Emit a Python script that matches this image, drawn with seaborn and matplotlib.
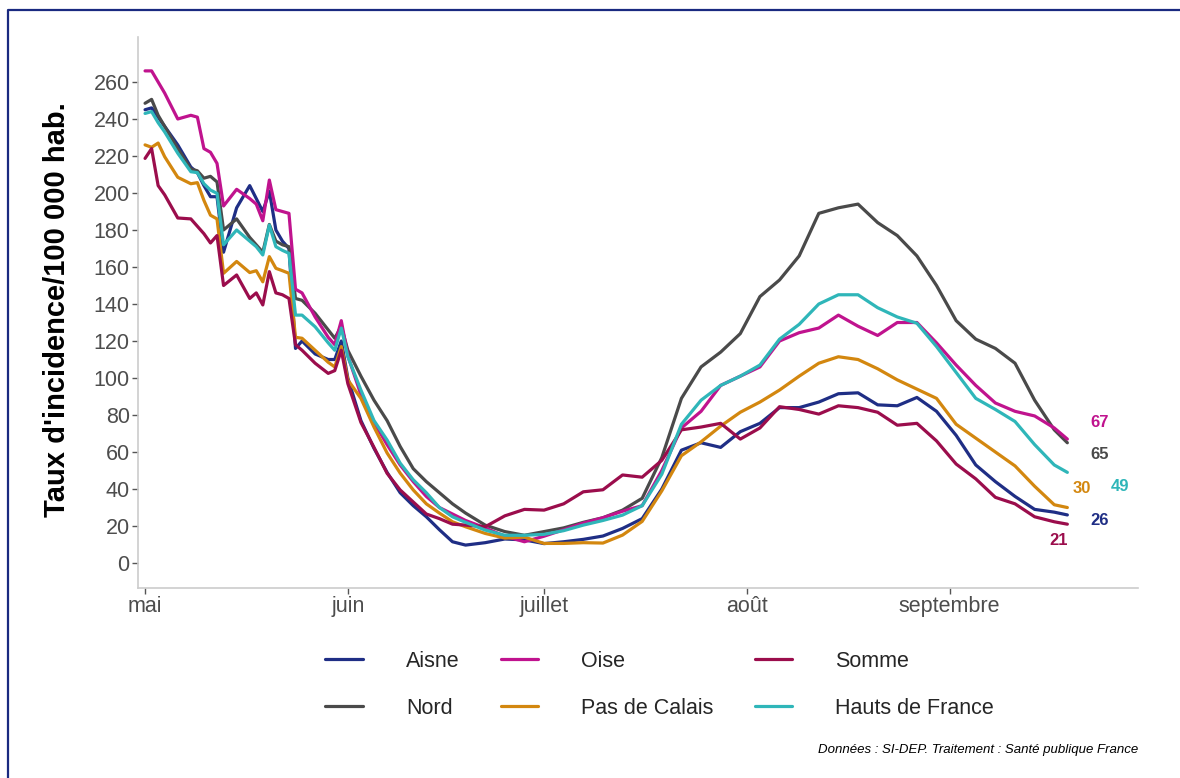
import pandas as pd
import matplotlib
matplotlib.use("Agg")
import matplotlib.pyplot as plt
from matplotlib.lines import Line2D
import seaborn as sns

# jours depuis le 1er mai 2021
start = pd.Timestamp("2021-05-01")
days = [0, 1, 2, 3, 5, 7, 8, 9, 10, 11, 12, 14, 16, 17, 18, 19, 20, 21, 22, 23, 24, 26, 28, 29, 30, 31,
        33, 35, 37, 39, 41, 43, 45, 47, 49,
        52, 55, 58, 61, 64, 67, 70, 73, 76, 79, 82, 85, 88, 91, 94, 97, 100, 103, 106, 109, 112, 115,
        118, 121, 124, 127, 130, 133, 136, 139, 141]

aisne = [245, 246, 241, 236, 226, 214, 211, 204, 198, 198, 168, 192, 204, 197, 190, 201, 180, 174, 170, 116, 120, 113, 110, 110, 120, 100,
         77, 62, 49, 38, 31, 25, 18, 11.5, 9.7,
         11, 13, 12.5, 10.5, 11.5, 12.8, 14.6, 18.7, 24, 40, 61, 65, 62.5, 71, 75.5, 84, 84, 87, 91.5, 92, 85.5, 85,
         89.5, 82, 69, 53, 44, 36, 29, 27.5, 26]
nord = [248.5, 250.6, 242, 236, 224, 213, 212, 208, 209, 206, 180, 186, 176, 172, 168, 183, 174, 172, 171, 143, 142, 135, 126, 121.5, 128, 115,
        101, 88, 77, 63, 51, 44, 38, 32, 27,
        20.5, 17, 15, 17, 19, 22, 24.5, 28.6, 35, 57, 89, 106, 114, 124, 144, 153, 166, 189, 192, 194, 184, 177,
        166, 150, 131, 121, 116, 108, 88, 72, 65]
oise = [266, 266, 260, 254, 240, 242, 241, 224, 222, 216, 193, 202, 197, 194, 185, 207, 191, 190, 189, 148, 146, 133, 122, 118, 131, 112,
        91, 76, 64, 53, 44, 36, 30, 26.5, 23,
        19, 14.5, 11.5, 14.5, 18, 21.6, 24.5, 28, 31, 50, 73, 82, 96, 101, 106, 120, 124.5, 127, 134, 128, 123, 130,
        130, 119, 107, 96, 86.5, 82, 79.5, 73, 67]
pas_de_calais = [226, 224.7, 227, 219.6, 208.5, 205, 205.6, 196, 188, 186, 156.6, 163, 157, 158, 152, 165.6, 159.3, 158, 156.6, 122, 121.5, 115, 108.5, 106, 117, 99,
                 89, 73.5, 59.5, 48.6, 39.5, 32, 27, 22.3, 19.6,
                 16, 13.5, 14, 10.6, 10.6, 11, 10.8, 15.1, 22.5, 39, 58, 65.5, 74, 81.5, 87, 93.5, 101, 108, 111.5, 110, 105, 99,
                 94, 89, 75, 67.5, 60, 52.5, 41.5, 31.5, 30]
somme = [218.7, 224, 204, 199, 186.5, 186, 182, 178, 173, 177, 150, 155.7, 143, 146, 139.5, 157.5, 146, 145, 143, 118, 115, 108, 102.5, 104, 115, 97,
         76, 62.5, 48.5, 39.5, 33, 26.5, 24, 21, 20.5,
         19.6, 25.5, 29, 28.6, 32, 38.5, 39.6, 47.6, 46.4, 55.5, 72, 73.5, 75.5, 67, 73, 84.5, 83, 80.5, 85, 84, 81.5, 74.5,
         75.5, 66, 53.5, 45.5, 35.5, 32, 25, 22.3, 21]
hauts_de_france = [243, 244, 238, 233, 221.5, 211.5, 211, 205, 201.6, 199.8, 172, 180, 174, 171, 166.5, 182.7, 171, 169, 167.4, 134, 134, 127.7, 119, 115, 127, 111.5,
                   93.5, 77, 66.5, 54, 45, 38, 30, 25, 22,
                   17.8, 15, 15, 15.5, 17.5, 20.5, 23, 25.9, 31, 48, 75, 88, 96, 101, 107, 121, 129, 140, 145, 145, 138, 133,
                   129.6, 117, 103, 89, 83, 76.5, 64, 53, 49]

regions = ["Aisne", "Nord", "Oise", "Pas de Calais", "Somme", "Hauts de France"]
month_ticks = ["2021-05-01", "2021-06-01", "2021-07-01", "2021-08-01", "2021-09-01"]
month_labels = ["mai", "juin", "juillet", "août", "septembre"]
y_ticks = list(range(0, 261, 20))

series = {"Aisne": aisne, "Nord": nord, "Oise": oise, "Pas de Calais": pas_de_calais,
          "Somme": somme, "Hauts de France": hauts_de_france}
colors = {"Aisne": "#1f2e85", "Nord": "#4a4a4a", "Oise": "#c0138e", "Pas de Calais": "#d3870f",
          "Somme": "#9b0d4c", "Hauts de France": "#2fb6b9"}
# position (jour, valeur) des étiquettes de fin de courbe
label_pos = {"Oise": (145.9, 75.7), "Nord": (146, 58.4), "Pas de Calais": (143.2, 40.5),
             "Hauts de France": (149, 41.2), "Aisne": (146, 22.9), "Somme": (139.6, 12.4)}

df = pd.concat([pd.DataFrame({"date": start + pd.to_timedelta(days, unit="D"),
                              "taux": vals, "zone": name})
                for name, vals in series.items()], ignore_index=True)

sns.set_theme(style="white")
plt.rcParams["font.family"] = ["Liberation Sans", "DejaVu Sans"]

fig = plt.figure(figsize=(11.8, 7.78), dpi=100)
ax = fig.add_axes([0.117, 0.2442, 0.8474, 0.7082])

sns.lineplot(data=df, x="date", y="taux", hue="zone", hue_order=regions,
             palette=colors, linewidth=2.3, ax=ax)

handles, labels = ax.get_legend_handles_labels()
ax.get_legend().remove()
for h in handles:
    h.set_linewidth(2.3)
fig.legend(handles, labels, ncol=3, loc="center", bbox_to_anchor=(0.559, 0.12),
           frameon=False, fontsize=15.5, handlelength=1.75, handletextpad=2.0,
           columnspacing=1.9, labelspacing=1.2)

# valeurs finales
for name, (d, y) in label_pos.items():
    ax.text(start + pd.Timedelta(days=d), y, f"{series[name][-1]:.0f}", color=colors[name],
            fontsize=12, fontweight="bold", ha="center", va="center")

ax.set_xlim(start - pd.Timedelta(days=1.07), start + pd.Timedelta(days=151.8))
ax.set_ylim(-13.5, 284.3)
ax.set_xticks(pd.to_datetime(month_ticks))
ax.set_xticklabels(month_labels)
ax.set_yticks(y_ticks)
ax.set_xlabel("")
ax.set_ylabel("")
ax.tick_params(axis="both", left=True, bottom=True, length=4, width=1, color="#555555",
               labelsize=15.5, labelcolor="#4d4d4d", pad=2)
ax.grid(False)
for side in ["top", "right"]:
    ax.spines[side].set_visible(False)
for side in ["left", "bottom"]:
    ax.spines[side].set_color("#cccccc")
    ax.spines[side].set_linewidth(1.2)

fig.text(57 / 1180, 1 - 310 / 778, "Taux d'incidence/100 000 hab.", rotation=90,
         ha="center", va="center", fontsize=21, fontweight="bold", color="black")
fig.text(1138 / 1180, 1 - 750 / 778, "Données : SI-DEP. Traitement : Santé publique France",
         ha="right", va="center", fontsize=9.5, style="italic", color="black")

# cadre bleu
fig.add_artist(Line2D([8 / 1180, 8 / 1180, 1], [0, 1 - 10 / 778, 1 - 10 / 778],
                      transform=fig.transFigure, color="#1a2a80", linewidth=1.6))

fig.savefig("out.png", dpi=100)
